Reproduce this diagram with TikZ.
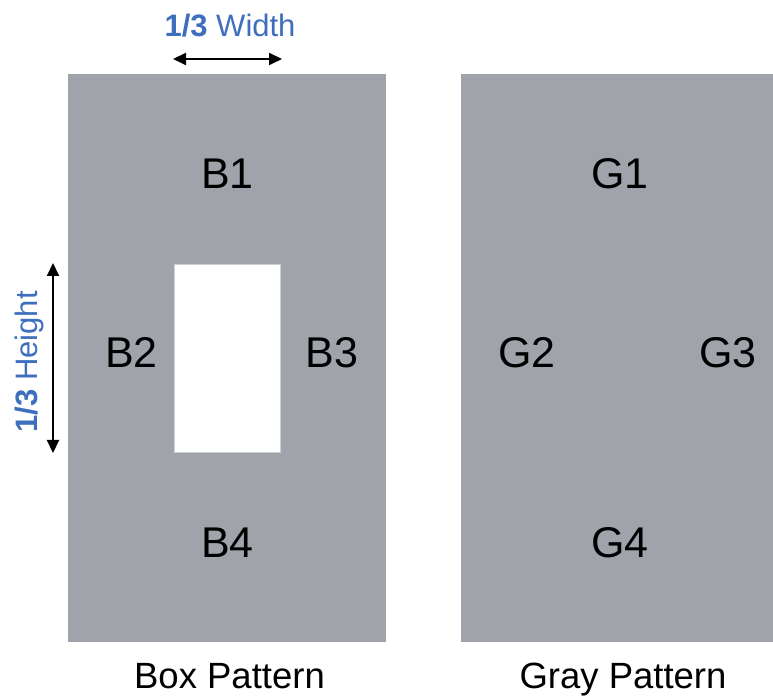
\documentclass[tikz,border=0pt]{standalone}
\usepackage{fontspec}
\setmainfont{Liberation Sans}
\usetikzlibrary{arrows.meta}
\definecolor{panelgray}{RGB}{160,163,170}
\definecolor{edgegray}{RGB}{205,207,211}
\definecolor{labelblue}{RGB}{62,110,190}
\begin{document}
\begin{tikzpicture}[x=1pt,y=1pt,
  panel/.style={fill=panelgray,draw=none},
  cell/.style={font=\fontsize{43}{43}\selectfont,anchor=base,inner sep=0pt},
  caption/.style={font=\fontsize{36.5}{36.5}\selectfont,anchor=base,inner sep=0pt},
  dimlabel/.style={font=\fontsize{31}{31}\selectfont,text=labelblue,anchor=base,inner sep=0pt},
  dimarrow/.style={line width=2pt,{Triangle[length=13pt,width=12pt]}-{Triangle[length=13pt,width=12pt]}}]
\useasboundingbox (0,0) rectangle (773,699);
% the two panels
\fill[panel] (68,57) rectangle (386,625);
\fill[panel] (461,57) rectangle (773,625);
% hole of the box pattern
\filldraw[fill=white,draw=edgegray,line width=0.8pt] (174,247) rectangle (280,435);
% cell labels
\node[cell] (b1) at (227.5,510) {B1};
\node[cell] (b2) at (131.5,331) {B2};
\node[cell] (b3) at (332,331) {B3};
\node[cell] (b4) at (227.5,142) {B4};
\node[cell] (g1) at (620,510) {G1};
\node[cell] (g2) at (527,331) {G2};
\node[cell] (g3) at (728,331) {G3};
\node[cell] (g4) at (620,142) {G4};
% captions
\node[caption] (cbox) at (229.5,11) {Box Pattern};
\node[caption] (cgray) at (623,11) {Gray Pattern};
% dimension arrows
\coordinate (wl) at (173,640);
\coordinate (wr) at (282,640);
\draw[dimarrow] (wl) -- (wr);
\coordinate (ht) at (53,436);
\coordinate (hb) at (53,246);
\draw[dimarrow] (ht) -- (hb);
\node[dimlabel] (wlab) at (230,662) {\textbf{1/3} Width};
\node[dimlabel,rotate=90] (hlab) at (37,337) {\textbf{1/3} Height};
\end{tikzpicture}
\end{document}
